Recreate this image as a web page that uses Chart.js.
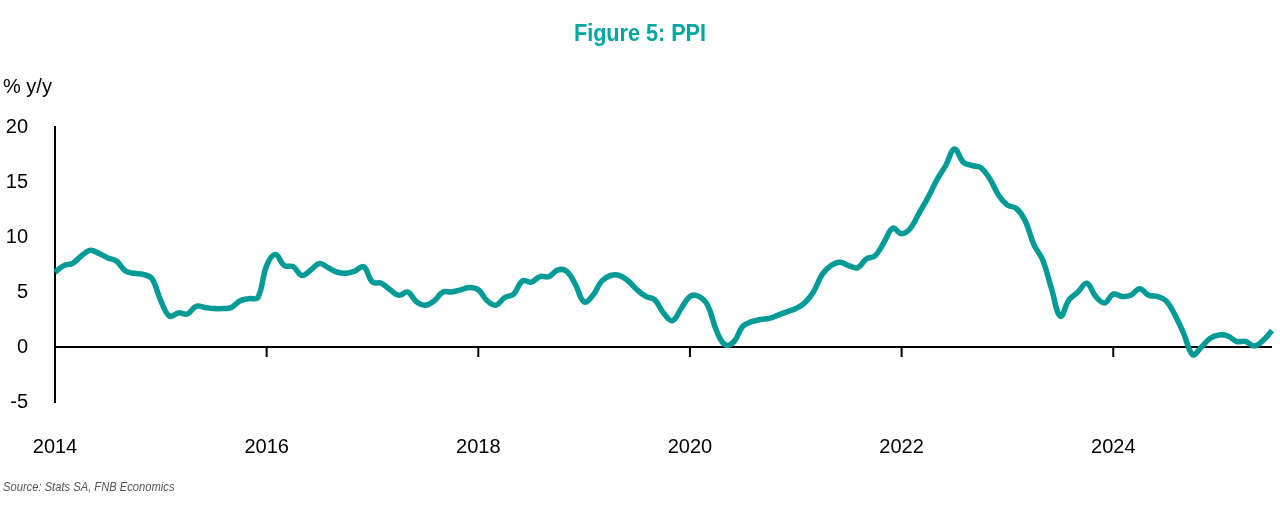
<!DOCTYPE html>
<html lang="en">

<head>
  <meta charset="UTF-8">
  <title>Figure 5: PPI</title>
  <script src="https://cdn.jsdelivr.net/npm/chart.js"></script>
  <style>
    body { margin: 0; background: #fff; }
    #wrap { position: relative; width: 1280px; height: 520px; }
    #title { position: absolute; left: 0; width: 1280px; top: 19px; text-align: center;
      font: bold 24px "Liberation Sans", Arial, sans-serif; color: #00A6A0;
      transform: scaleX(0.9); transform-origin: 640px 0; }
    #unit { position: absolute; left: 3px; top: 75px; font: 20px "Liberation Sans", Arial, sans-serif; color: #000; }
    #source { position: absolute; left: 3px; top: 479px; font: italic 13px "Liberation Sans", Arial, sans-serif; color: #555;
      transform: scaleX(0.86); transform-origin: 0 0; }
  </style>
</head>

<body>
  <div id="wrap">
    <canvas id="ppiChart" width="1280" height="520"></canvas>
    <div id="title">Figure 5: PPI</div>
    <div id="unit">% y/y</div>
    <div id="source">Source: Stats SA, FNB Economics</div>
  </div>

  <script>
    // PPI % y/y, monthly
    const firstYear = 2014;
    const ppi2014 = [6.8, 7.4, 7.6, 8.3, 8.8, 8.5, 8.1, 7.8, 6.9, 6.7, 6.6, 6.2];
    const ppi2015 = [4.2, 2.8, 3.1, 3.0, 3.7, 3.6, 3.5, 3.5, 3.6, 4.2, 4.4, 4.5];
    const ppi2016 = [7.4, 8.4, 7.4, 7.3, 6.5, 7.0, 7.6, 7.2, 6.8, 6.7, 6.9, 7.3];
    const ppi2017 = [5.9, 5.8, 5.2, 4.7, 5.0, 4.1, 3.8, 4.2, 5.0, 5.0, 5.2, 5.4];
    const ppi2018 = [5.2, 4.2, 3.8, 4.5, 4.8, 6.0, 5.9, 6.4, 6.4, 7.0, 6.9, 5.7];
    const ppi2019 = [4.1, 4.7, 6.0, 6.5, 6.5, 6.0, 5.2, 4.6, 4.3, 3.1, 2.4, 3.5];
    const ppi2020 = [4.6, 4.6, 3.8, 1.5, 0.2, 0.5, 1.9, 2.3, 2.5, 2.6, 2.9, 3.2];
    const ppi2021 = [3.5, 4.0, 5.0, 6.6, 7.4, 7.7, 7.4, 7.2, 8.0, 8.3, 9.5, 10.8];
    const ppi2022 = [10.3, 10.8, 12.2, 13.6, 15.2, 16.5, 18.0, 16.8, 16.5, 16.3, 15.3, 13.8];
    const ppi2023 = [12.9, 12.6, 11.5, 9.3, 7.9, 5.3, 2.8, 4.3, 5.0, 5.8, 4.6, 4.0];
    const ppi2024 = [4.8, 4.6, 4.7, 5.3, 4.7, 4.6, 4.2, 2.9, 1.2, -0.7, 0.0, 0.8];
    const ppi2025 = [1.1, 1.0, 0.5, 0.5, 0.1, 0.6, 1.5];

    const yTicks = [-5, 0, 5, 10, 15, 20];

    const ppi = [].concat(ppi2014, ppi2015, ppi2016, ppi2017, ppi2018, ppi2019,
      ppi2020, ppi2021, ppi2022, ppi2023, ppi2024, ppi2025);

    // month labels "YYYY-MM"
    const months = ppi.map((v, i) => {
      const y = firstYear + Math.floor(i / 12);
      const m = (i % 12) + 1;
      return y + '-' + (m < 10 ? '0' + m : m);
    });

    const isYearTick = label => label.endsWith('-01') && (parseInt(label) % 2 === 0);

    // small tick marks hanging under the zero line at each labelled year
    const zeroTicks = {
      id: 'zeroTicks',
      afterDatasetsDraw(chart) {
        const x = chart.scales.x, y = chart.scales.y;
        const y0 = y.getPixelForValue(0);
        const c = chart.ctx;
        c.save();
        c.strokeStyle = '#000';
        c.lineWidth = 2;
        months.forEach((lab, i) => {
          if (!isYearTick(lab)) return;
          const px = x.getPixelForValue(i);
          c.beginPath();
          c.moveTo(px, y0);
          c.lineTo(px, y0 + 10);
          c.stroke();
        });
        c.restore();
      }
    };

    const ctx = document.getElementById('ppiChart').getContext('2d');
    new Chart(ctx, {
      type: 'line',
      data: {
        labels: months,
        datasets: [{
          label: 'PPI',
          data: ppi,
          borderColor: '#009B96',
          borderWidth: 5.5,
          pointRadius: 0,
          tension: 0.4,
          fill: false
        }]
      },
      options: {
        responsive: false,
        animation: false,
        layout: { padding: { top: 127, left: 5, right: 8, bottom: 28 } },
        plugins: {
          legend: { display: false },
          tooltip: { enabled: false }
        },
        scales: {
          x: {
            offset: false,
            // let the 2014 label hang past the y axis instead of pushing the plot right
            afterFit: scale => { scale.paddingLeft = 0; scale.paddingRight = 0; },
            grid: { display: false, drawTicks: false },
            border: { display: false },
            ticks: {
              autoSkip: false,
              maxRotation: 0,
              padding: 33,
              color: '#000',
              font: { family: '"Liberation Sans", Arial, sans-serif', size: 20 },
              callback: function (value) {
                const lab = this.getLabelForValue(value);
                return isYearTick(lab) ? lab.slice(0, 4) : '';
              }
            }
          },
          y: {
            min: -5,
            max: 20,
            afterBuildTicks: scale => { scale.ticks = yTicks.map(v => ({ value: v })); },
            afterFit: scale => { scale.width = 50; },
            grid: {
              drawTicks: false,
              color: c => (c.tick && c.tick.value === 0) ? '#000' : 'rgba(0,0,0,0)',
              lineWidth: 2
            },
            border: { color: '#000', width: 2 },
            ticks: {
              padding: 27,
              color: '#000',
              font: { family: '"Liberation Sans", Arial, sans-serif', size: 20 }
            }
          }
        }
      },
      plugins: [zeroTicks]
    });
  </script>
</body>

</html>
